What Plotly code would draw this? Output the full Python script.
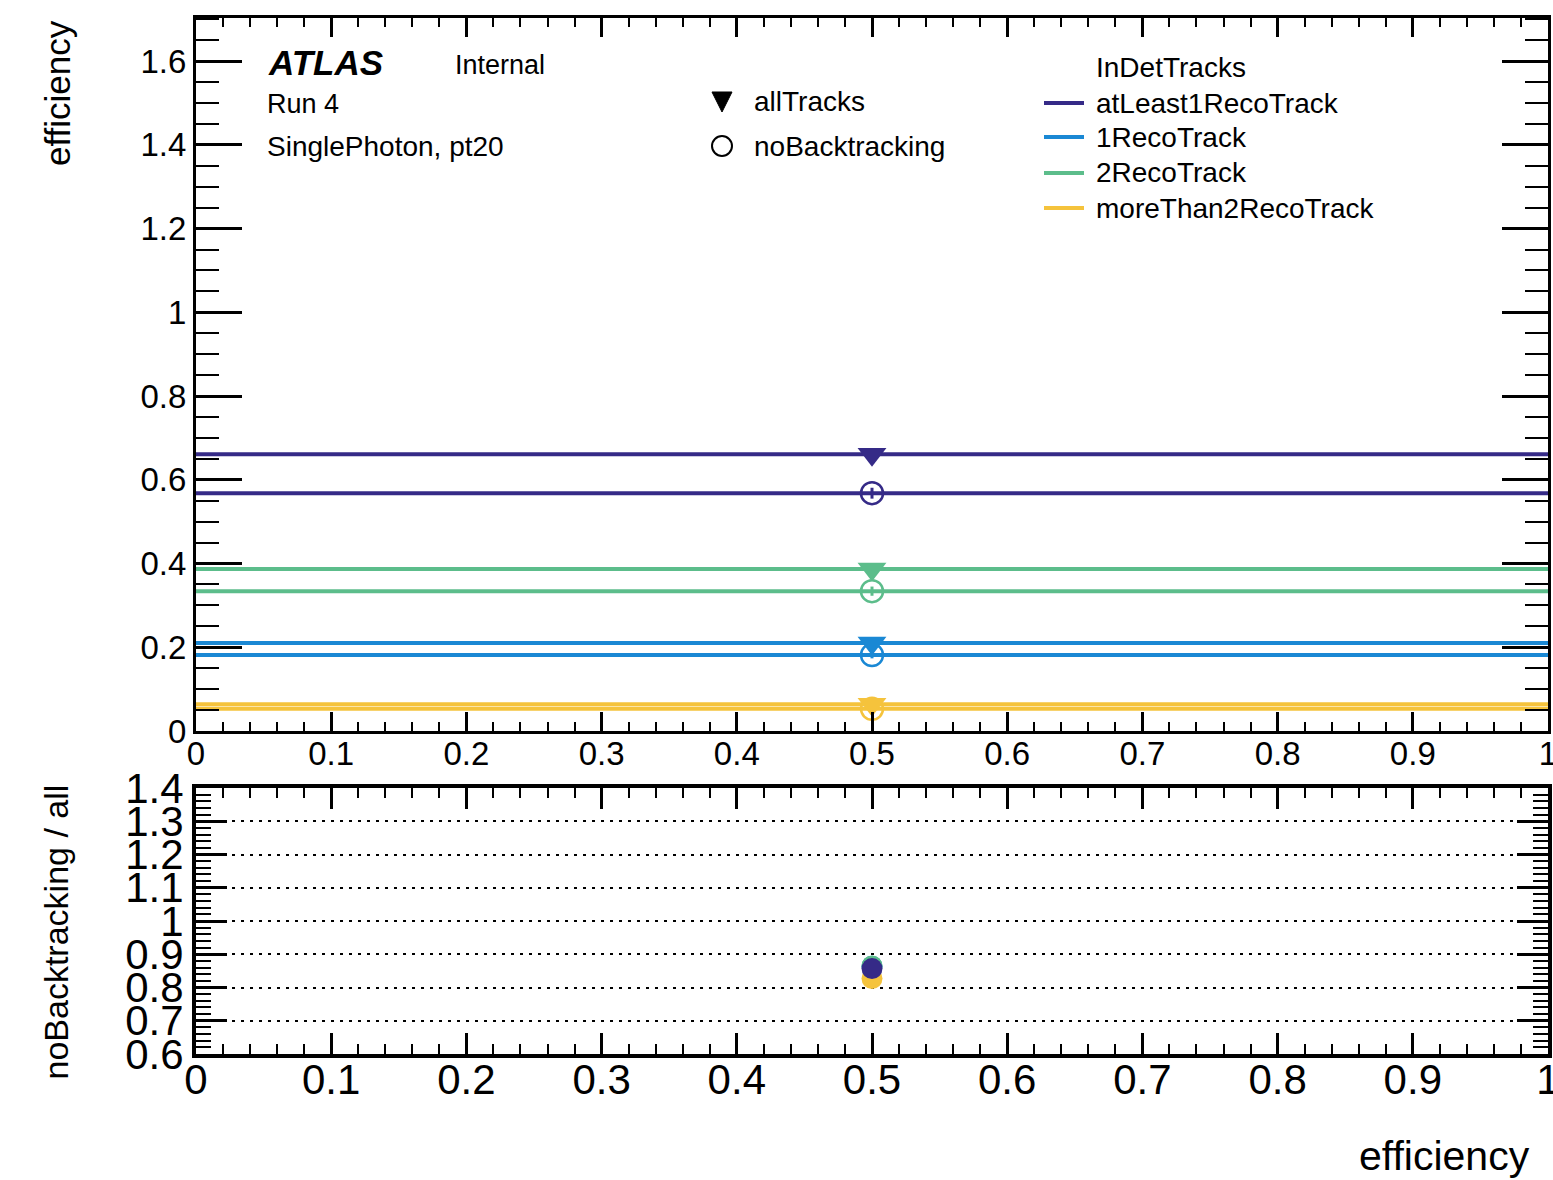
import plotly.graph_objects as go

# ---------------- data ----------------
categories = ["atLeast1RecoTrack", "1RecoTrack", "2RecoTrack", "moreThan2RecoTrack"]
colors = ["#352A87", "#1A88D4", "#5CBD8B", "#F5C33C"]
bin_edges = [0.0, 1.0]
bin_center = [0.5]
eff_all = [0.661, 0.210, 0.387, 0.064]
err_all = [0.012, 0.008, 0.011, 0.005]
eff_nobt = [0.568, 0.1815, 0.334, 0.053]
err_nobt = [0.013, 0.008, 0.011, 0.005]
ratio = [0.857, 0.864, 0.865, 0.827]
ratio_err = [0.01, 0.01, 0.01, 0.01]
ratio_order = [1, 2, 3, 0]

W, H = 1553, 1180
FONT = "Liberation Sans, Arial, Helvetica, sans-serif"


def px(x):
    return x / W


def py(y):
    return 1 - y / H


fig = go.Figure()

# top panel: horizontal bin lines + markers
for i, cat in enumerate(categories):
    c = colors[i]
    fig.add_trace(go.Scatter(x=bin_edges, y=[eff_all[i]] * 2, mode="lines",
                             line=dict(color=c, width=4), xaxis="x", yaxis="y",
                             hoverinfo="skip"))
    fig.add_trace(go.Scatter(x=bin_edges, y=[eff_nobt[i]] * 2, mode="lines",
                             line=dict(color=c, width=4), xaxis="x", yaxis="y",
                             hoverinfo="skip"))
for i, cat in enumerate(categories):
    c = colors[i]
    fig.add_trace(go.Scatter(x=bin_center, y=[eff_nobt[i]], mode="markers",
                             marker=dict(symbol="circle-open", size=22, color=c,
                                         line=dict(width=2.5, color=c)),
                             error_y=dict(type="data", array=[err_nobt[i]], color=c,
                                          thickness=3, width=0),
                             xaxis="x", yaxis="y", name=cat + " noBacktracking"))
    fig.add_trace(go.Scatter(x=bin_center, y=[eff_all[i]], mode="markers",
                             marker=dict(symbol="triangle-down", size=25, color=c),
                             error_y=dict(type="data", array=[err_all[i]], color=c,
                                          thickness=3, width=0),
                             xaxis="x", yaxis="y", name=cat + " allTracks"))

# bottom panel: ratio
for i in ratio_order:
    c = colors[i]
    fig.add_trace(go.Scatter(x=bin_center, y=[ratio[i]], mode="markers",
                             marker=dict(symbol="circle", size=21, color=c),
                             error_y=dict(type="data", array=[ratio_err[i]], color=c,
                                          thickness=2, width=0),
                             xaxis="x2", yaxis="y2", name=categories[i]))

x_dom = [px(196), px(1548)]


def axis(size, **kw):
    d = dict(ticks="inside", tickcolor="black", showline=True, linecolor="black",
             mirror="allticks", showgrid=False, zeroline=False, automargin=False,
             ticklabeloverflow="allow",
             tickfont=dict(family=FONT, color="black", size=size))
    d.update(kw)
    return d


fig.update_layout(
    width=W, height=H, margin=dict(l=0, r=0, t=0, b=0, autoexpand=False),
    paper_bgcolor="white", plot_bgcolor="white", showlegend=False,
    font=dict(family=FONT, color="black"),
    xaxis=axis(33, domain=x_dom, anchor="y", range=[0, 1], tick0=0, dtick=0.1,
               ticklen=19, tickwidth=2.5, linewidth=3,
               minor=dict(ticks="inside", dtick=0.02, ticklen=9, tickwidth=2,
                          tickcolor="black")),
    yaxis=axis(33, domain=[py(731), py(18)], anchor="x", range=[0, 1.703], tick0=0,
               dtick=0.2, ticklen=46, tickwidth=2.5, linewidth=3,
               minor=dict(ticks="inside", dtick=0.05, ticklen=23, tickwidth=2,
                          tickcolor="black")),
    xaxis2=axis(42, domain=x_dom, anchor="y2", range=[0, 1], tick0=0, dtick=0.1,
                ticklen=21, tickwidth=2.5, linewidth=4,
                minor=dict(ticks="inside", dtick=0.02, ticklen=10, tickwidth=2,
                           tickcolor="black")),
    yaxis2=axis(42, domain=[py(1054), py(788)], anchor="x2", range=[0.6, 1.4],
                tick0=0.6, dtick=0.1, ticklen=31, tickwidth=2.5, linewidth=4,
                showgrid=True, gridcolor="black", gridwidth=2, griddash="3px,6px",
                minor=dict(ticks="inside", dtick=0.02, ticklen=15, tickwidth=2,
                           tickcolor="black")),
)

# pull x tick labels a little closer to the frame, as in the reference
try:
    fig.update_layout(xaxis_ticklabelstandoff=-9, xaxis2_ticklabelstandoff=-14)
except Exception:
    pass

ann = []


def text(x, y, s, size, xanchor="left", yanchor="middle", angle=0, bold_it=False):
    t = "<b><i>%s</i></b>" % s if bold_it else s
    ann.append(dict(x=px(x), y=py(y), xref="paper", yref="paper", text=t,
                    showarrow=False, xanchor=xanchor, yanchor=yanchor,
                    textangle=angle, font=dict(family=FONT, size=size, color="black")))


text(266, 63, "ATLAS", 35, bold_it=True)
text(453, 65, "Internal", 27)
text(265, 104, "Run 4", 27)
text(265, 146, "SinglePhoton, pt20", 28)
text(752, 102, "allTracks", 28)
text(752, 146, "noBacktracking", 28)
text(1094, 67, "InDetTracks", 28)
leg_y = [103, 137, 173, 208]
for i, cat in enumerate(categories):
    text(1094, leg_y[i], cat, 28)
text(58, 18, "efficiency", 35, xanchor="center", yanchor="top", angle=-90)
text(55, 783, "noBacktracking / all", 34, xanchor="center", yanchor="top", angle=-90)
text(1532, 1156, "efficiency", 41, xanchor="right")

fig.update_layout(annotations=ann)

shapes = []
for i, cat in enumerate(categories):
    shapes.append(dict(type="line", xref="paper", yref="paper", x0=px(1044), x1=px(1084),
                       y0=py(leg_y[i]), y1=py(leg_y[i]),
                       line=dict(color=colors[i], width=4)))
# legend keys for marker styles
shapes.append(dict(type="path", xref="paper", yref="paper",
                   path="M %f %f L %f %f L %f %f Z" % (px(712), py(92), px(732), py(92),
                                                      px(722), py(112)),
                   fillcolor="black", line=dict(color="black", width=1)))
shapes.append(dict(type="circle", xref="paper", yref="paper",
                   x0=px(712), x1=px(732), y0=py(136), y1=py(156),
                   line=dict(color="black", width=2)))
fig.update_layout(shapes=shapes)

fig.write_html("out.html")
